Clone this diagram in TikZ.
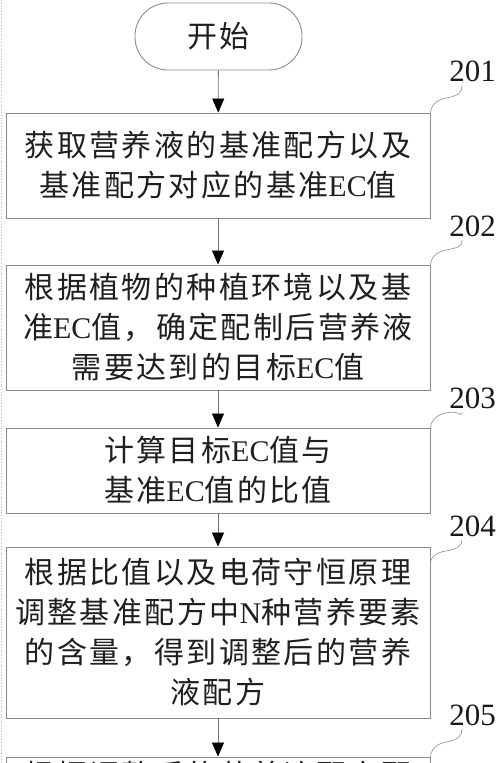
\documentclass[tikz,border=0pt]{standalone}
\usepackage{fontspec}
\setmainfont{Liberation Serif}
\newfontfamily\cjk[LetterSpace=8]{Noto Sans CJK SC}
\usetikzlibrary{arrows.meta}
\newcommand\la[1]{{\rmfamily #1}}
\newcommand\txtfont{\cjk\fontsize{30}{40}\selectfont}
\newcommand\numfont{\rmfamily\fontsize{31}{31}\selectfont}
\begin{document}
\begin{tikzpicture}[x=1pt,y=-1pt,
  stepbox/.style={draw=black!45, line width=0.9pt, minimum width=424pt, inner sep=0pt,
    align=center, font=\txtfont, text=black!88},
  startbox/.style={draw=black!45, line width=0.9pt, minimum width=167pt, minimum height=67pt,
    rounded corners=33pt, inner sep=0pt, font=\txtfont, text=black!88},
  flow/.style={draw=black!55, line width=0.8pt, -{Triangle[width=12pt,length=14pt,black]}},
  numlabel/.style={font=\numfont, inner sep=0pt, text=black!90},
  squig/.style={draw=black!40, line width=0.7pt}
]
\useasboundingbox (0,0) rectangle (500,763);
\clip (0,0) rectangle (500,763);
\draw[black!25, dotted, line width=0.8pt] (1,0) -- (1,763);

\node[startbox] (start) at (218.5,36.5) {开始};
\node[stepbox, minimum height=105pt] (s201) at (218,165.5)
  {获取营养液的基准配方以及\\基准配方对应的基准\la{EC}值};
\node[stepbox, minimum height=125pt] (s202) at (218,327.5)
  {根据植物的种植环境以及基\\准\la{EC}值，确定配制后营养液\\需要达到的目标\la{EC}值};
\node[stepbox, minimum height=85pt] (s203) at (218,470.5)
  {计算目标\la{EC}值与\\基准\la{EC}值的比值};
\node[stepbox, minimum height=171pt] (s204) at (218,632.5)
  {根据比值以及电荷守恒原理\\调整基准配方中\la{N}种营养要素\\的含量，得到调整后的营养\\液配方};
\node[stepbox, minimum height=36pt] (s205) at (218,775)
  {根据调整后的营养液配方配};

\draw[flow] (start) -- (s201);
\draw[flow] (s201) -- (s202);
\draw[flow] (s202) -- (s203);
\draw[flow] (s203) -- (s204);
\draw[flow] (s204) -- (s205);

\node[numlabel] (l201) at (472.5,71.5) {201};
\node[numlabel] (l202) at (472.5,226) {202};
\node[numlabel] (l203) at (472.5,398) {203};
\node[numlabel] (l204) at (472.5,526) {204};
\node[numlabel] (l205) at (472.5,715) {205};

\coordinate (c201) at (462,86);
\coordinate (c202) at (462,240);
\coordinate (c203) at (462,412);
\coordinate (c204) at (462,540);
\coordinate (c205) at (462,729);

\draw[squig] (s201.north east) .. controls +(1,-10) and +(-8,1) .. +(18,-15) .. controls +(10,-2) and +(0,6) .. (c201);
\draw[squig] (s202.north east) .. controls +(1,-10) and +(-8,1) .. +(18,-15) .. controls +(10,-2) and +(0,6) .. (c202);
\draw[squig] (s203.north east) .. controls +(1,-10) and +(-8,1) .. +(18,-15) .. controls +(10,-2) and +(0,6) .. (c203);
\draw[squig] ([yshift=-16pt]s204.north east) .. controls +(1,-8) and +(-8,1) .. +(18,-12) .. controls +(10,-2) and +(0,5) .. (c204);
\draw[squig] (s205.north east) .. controls +(1,-10) and +(-8,1) .. +(18,-15) .. controls +(10,-2) and +(0,6) .. (c205);
\end{tikzpicture}
\end{document}
